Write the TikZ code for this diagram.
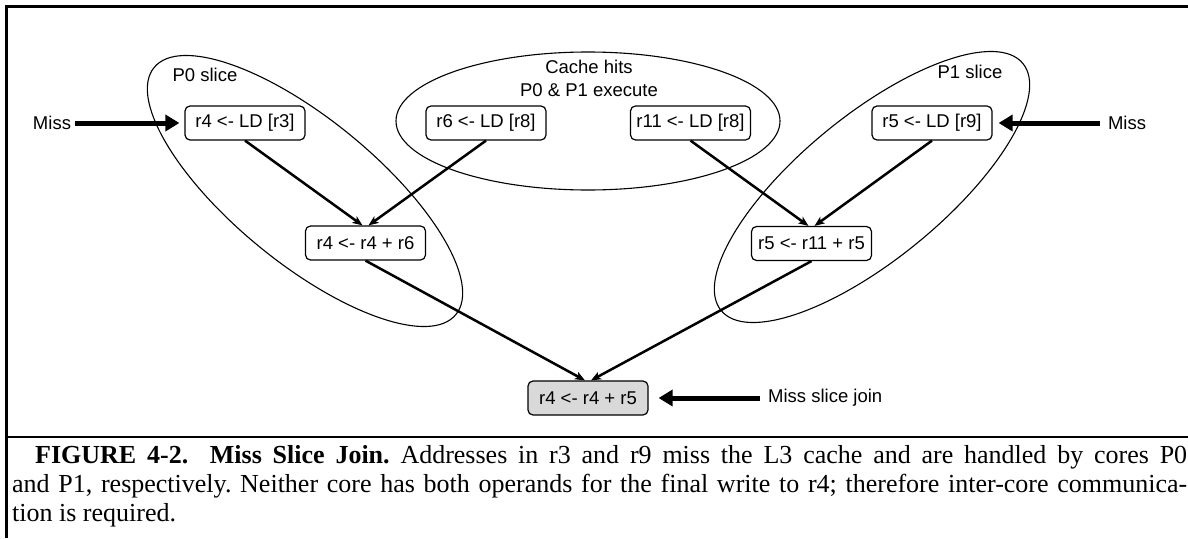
\documentclass[tikz,border=0pt]{standalone}
\usepackage{fontspec}
\setmainfont{Liberation Serif}
\newfontfamily\labelfont{Liberation Sans}
\usetikzlibrary{arrows.meta}
\definecolor{joingray}{gray}{0.85}
\frenchspacing
\begin{document}
\begin{tikzpicture}[x=1pt,y=-1pt,
  instr/.style={draw, line width=1.2pt, rounded corners=5pt,
    minimum width=120pt, minimum height=34pt, inner sep=1pt,
    font=\labelfont\fontsize{18.5}{23}\selectfont},
  lbl/.style={inner sep=0pt, font=\labelfont\fontsize{18.5}{23}\selectfont},
  dep/.style={line width=2.5pt, -{Stealth[length=10pt,width=8pt,inset=2.5pt]}},
  feed/.style={line width=5pt, -{Triangle[length=14pt,width=16pt]}},
  region/.style={line width=1.1pt}]

\useasboundingbox (0,0) rectangle (1188,538);

% frame and caption rule
\draw[line width=2.5pt] (6.5,538) -- (6.5,6.5) -- (1188,6.5);
\draw[line width=2pt] (6.5,436.5) -- (1188,436.5);

% slice regions
\draw[region, rotate around={-39.3:(305,191)}] (305,191) ellipse [x radius=195, y radius=72];
\draw[region, rotate around={39.3:(872,187)}] (872,187) ellipse [x radius=195, y radius=72];
\draw[region] (588,121) ellipse [x radius=192, y radius=69];

% instructions
\node[instr] (ldr3)   at (245,123)   {r4 <- LD [r3]};
\node[instr] (ldr8a)  at (486,123)   {r6 <- LD [r8]};
\node[instr] (ldr8b)  at (690.5,123) {r11 <- LD [r8]};
\node[instr] (ldr9)   at (932,123)   {r5 <- LD [r9]};
\node[instr] (add06)  at (365.5,243) {r4 <- r4 + r6};
\node[instr] (add115) at (811.5,243.5) {r5 <- r11 + r5};
\node[instr, fill=joingray] (join) at (588,398) {r4 <- r4 + r5};

% labels
\node[lbl] (missL) at (52,123) {Miss};
\node[lbl] (missR) at (1127,123) {Miss};
\node[lbl, anchor=west] (joinlbl) at (768,398) {Miss slice join};
\node[lbl] (p0) at (205,75) {P0 slice};
\node[lbl] (p1) at (970,72) {P1 slice};
\node[lbl, align=center] (hits) at (589,78) {Cache hits\\P0 \& P1 execute};

% miss inputs and join marker
\draw[feed, shorten <=4pt, shorten >=5pt] (missL.east) -- (ldr3.west);
\draw[feed, shorten <=8pt, shorten >=6pt] (missR.west) -- (ldr9.east);
\draw[feed, shorten <=8pt, shorten >=10pt] (joinlbl.west) -- (join.east);

% data dependences
\draw[dep] (ldr3.south)   -- ([xshift=-3pt]add06.north);
\draw[dep] (ldr8a.south)  -- ([xshift=3pt]add06.north);
\draw[dep] (ldr8b.south)  -- ([xshift=-3pt]add115.north);
\draw[dep] (ldr9.south)   -- ([xshift=3pt]add115.north);
\draw[dep] (add06.south)  -- ([xshift=-3pt]join.north);
\draw[dep] (add115.south) -- ([xshift=3pt]join.north);

% caption
\node[anchor=north west, inner sep=0pt, text width=1175pt, align=justify,
  font=\fontsize{26}{29}\selectfont] (caption) at (12,445)
  {\hspace*{23pt}\textbf{FIGURE 4-2.\ \ Miss Slice Join.} Addresses in r3 and r9 miss the L3 cache and are handled by cores P0\linebreak
  and P1, respectively. Neither core has both operands for the final write to r4; therefore inter-core communica-\linebreak
  tion is required.\par};
\end{tikzpicture}
\end{document}
